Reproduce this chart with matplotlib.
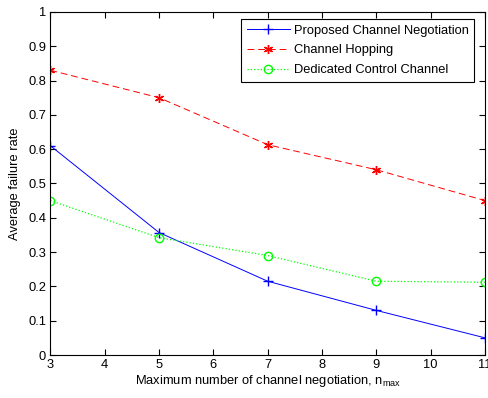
import numpy as np
import matplotlib
matplotlib.use("Agg")
import matplotlib.pyplot as plt

plt.rcParams['font.family'] = ['Liberation Sans', 'DejaVu Sans']

n_max = [3, 5, 7, 9, 11]
proposed = [0.61, 0.357, 0.215, 0.13, 0.05]
hopping = [0.83, 0.75, 0.613, 0.54, 0.45]
dedicated = [0.45, 0.342, 0.29, 0.215, 0.212]

fs = 9.3

fig = plt.figure(figsize=(4.89, 3.98), dpi=100)
ax = fig.add_axes([0.103, 0.108, 0.889, 0.862])

ax.plot(n_max, proposed, "-", color="b", marker="+", ms=7, lw=0.7,
        label="Proposed Channel Negotiation")
ax.plot(n_max, hopping, "--", color="r", marker=(6, 2, 0), ms=6.5, lw=0.7,
        dashes=(7, 4), label="Channel Hopping")
ax.plot(n_max, dedicated, ":", color="#00ff00", marker="o", ms=6, lw=0.9,
        mfc="none", label="Dedicated Control Channel")

ax.set_xlim(3, 11)
ax.set_ylim(0, 1)
ax.set_xticks(range(3, 12))
ax.set_yticks(np.arange(0, 1.01, 0.1))
ax.set_yticklabels(["0", "0.1", "0.2", "0.3", "0.4", "0.5", "0.6", "0.7", "0.8", "0.9", "1"])
ax.tick_params(direction="in", top=True, right=True, labelsize=fs, length=4, pad=3)
ax.set_xlabel("Maximum number of channel negotiation, n$_{\\mathregular{max}}$", fontsize=fs, labelpad=1)
ax.set_ylabel("Average failure rate", fontsize=fs, labelpad=5)

leg = ax.legend(loc="upper right", bbox_to_anchor=(0.975, 0.98), fontsize=fs,
                fancybox=False, edgecolor="k", framealpha=1, borderpad=0.45,
                handlelength=3.3, handletextpad=0.3, labelspacing=0.6,
                borderaxespad=0)
leg.get_frame().set_linewidth(0.8)

fig.savefig("out.png", dpi=100)
